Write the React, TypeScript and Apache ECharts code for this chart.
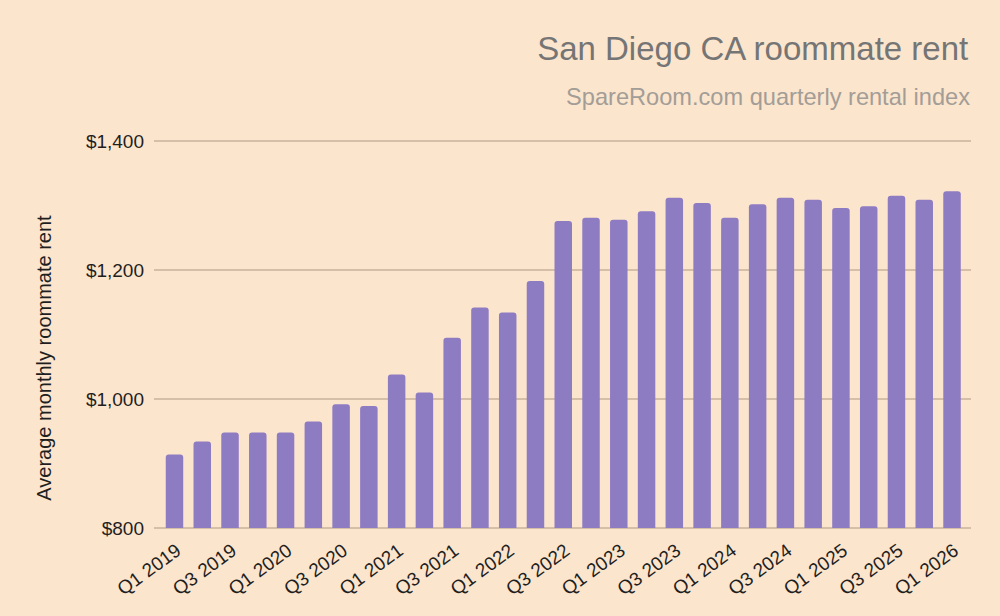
import React, { useEffect, useRef } from "react";
import * as echarts from "echarts";

// Quarterly labels, Q1 2019 through Q1 2026
const quarters: string[] = [
  "Q1 2019", "Q2 2019", "Q3 2019", "Q4 2019",
  "Q1 2020", "Q2 2020", "Q3 2020", "Q4 2020",
  "Q1 2021", "Q2 2021", "Q3 2021", "Q4 2021",
  "Q1 2022", "Q2 2022", "Q3 2022", "Q4 2022",
  "Q1 2023", "Q2 2023", "Q3 2023", "Q4 2023",
  "Q1 2024", "Q2 2024", "Q3 2024", "Q4 2024",
  "Q1 2025", "Q2 2025", "Q3 2025", "Q4 2025",
  "Q1 2026",
];

// Average monthly roommate rent, USD
const rent: number[] = [
  914, 934, 948, 948,
  948, 965, 992, 989,
  1038, 1010, 1095, 1142,
  1134, 1183, 1276, 1281,
  1278, 1291, 1312, 1304,
  1281, 1302, 1312, 1309,
  1296, 1299, 1315, 1309,
  1322,
];

const yTicks = { min: 800, max: 1400, interval: 200 };

const titleText = "San Diego CA roommate rent";
const subtitleText = "SpareRoom.com quarterly rental index";
const yAxisTitle = "Average monthly roommate rent";

const FONT = "'Liberation Sans', Arial, sans-serif";
const TOP = 141;
const BOTTOM = 88;

export default function App() {
  const ref = useRef<HTMLDivElement>(null);

  useEffect(() => {
    if (!ref.current) return;
    const chart = echarts.init(ref.current, undefined, { renderer: "svg" });
    const yBase = {
      type: "value",
      min: yTicks.min,
      max: yTicks.max,
      interval: yTicks.interval,
      axisLine: { show: false },
      axisTick: { show: false },
    };
    chart.setOption({
      animation: false,
      backgroundColor: "#fce5cd",
      textStyle: { fontFamily: FONT },
      grid: [
        // frame for the value gridlines and dollar labels
        { left: 154, right: 29, top: TOP, bottom: BOTTOM },
        // inset frame holding the bars
        { left: 160.6, right: 34.1, top: TOP, bottom: BOTTOM },
        // frame carrying the slanted quarter labels, nudged right
        { left: 164.6, right: 30.1, top: TOP, bottom: BOTTOM },
      ],
      xAxis: [
        {
          gridIndex: 0,
          type: "category",
          data: [""],
          show: false,
        },
        {
          gridIndex: 1,
          type: "category",
          data: quarters,
          boundaryGap: true,
          axisTick: { show: false },
          axisLine: { show: false },
          axisLabel: { show: false },
        },
        {
          gridIndex: 2,
          type: "category",
          data: quarters,
          boundaryGap: true,
          axisTick: { show: false },
          axisLine: { show: false },
          axisLabel: {
            interval: 1,
            rotate: 36,
            margin: 20,
            fontSize: 19,
            color: "#1f1f1f",
            fontFamily: FONT,
          },
        },
      ],
      yAxis: [
        {
          ...yBase,
          gridIndex: 0,
          splitLine: { lineStyle: { color: "#c9b29c", width: 1.5 } },
          axisLabel: {
            margin: 10,
            fontSize: 19,
            color: "#1f1f1f",
            fontFamily: FONT,
            formatter: (v: number) => "$" + v.toLocaleString("en-US"),
          },
        },
        {
          ...yBase,
          gridIndex: 1,
          show: false,
          splitLine: { show: false },
        },
        {
          ...yBase,
          gridIndex: 2,
          show: false,
          splitLine: { show: false },
        },
      ],
      series: [
        {
          type: "bar",
          xAxisIndex: 1,
          yAxisIndex: 1,
          data: rent,
          barWidth: "63%",
          itemStyle: { color: "#8e7cc3", borderRadius: [3, 3, 0, 0] },
        },
      ],
      graphic: [
        {
          type: "text",
          right: 30,
          top: 32,
          style: {
            text: titleText,
            font: `33px ${FONT}`,
            fill: "#757575",
          },
        },
        {
          type: "text",
          right: 30,
          top: 85,
          style: {
            text: subtitleText,
            font: `23.6px ${FONT}`,
            fill: "#a39d97",
          },
        },
        {
          type: "text",
          x: 44,
          y: 358,
          rotation: Math.PI / 2,
          style: {
            text: yAxisTitle,
            font: `20px ${FONT}`,
            fill: "#1f1f1f",
            align: "center",
            verticalAlign: "middle",
          },
        },
      ],
    });
    return () => chart.dispose();
  }, []);

  return (
    <div
      ref={ref}
      style={{ position: "fixed", left: 0, top: 0, width: 1000, height: 616 }}
    />
  );
}
